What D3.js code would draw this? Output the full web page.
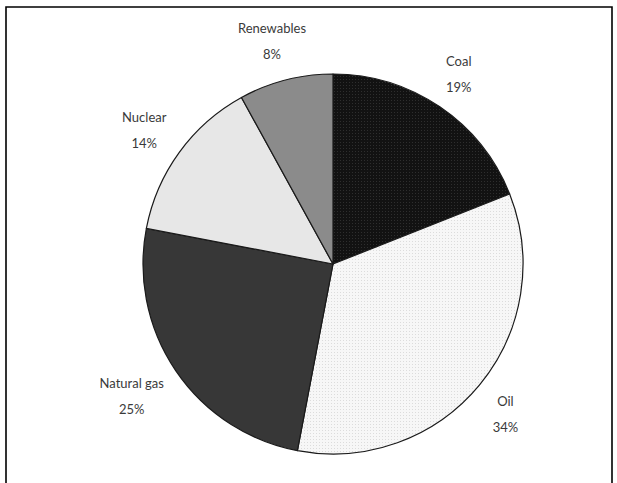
<!DOCTYPE html>
<html>
<head>
<meta charset="utf-8">
<script src="https://cdn.jsdelivr.net/npm/d3@7/dist/d3.min.js"></script>
<style>
  html, body { margin: 0; padding: 0; background: #fff; }
  svg { display: block; }
</style>
</head>
<body>
<svg id="chart" width="617" height="483"></svg>
<script>
// Energy mix shares (percent)
const sources = ["Coal", "Oil", "Natural gas", "Nuclear", "Renewables"];
const shares  = [19, 34, 25, 14, 8];
const fills   = ["url(#dotsDark)", "url(#dotsLight)", "#373737", "#e7e7e7", "#8b8b8b"];

const W = 617, H = 483;
const cx = 333, cy = 264, R = 190;

const svg = d3.select("#chart");

// Fill textures
const defs = svg.append("defs");
const dark = defs.append("pattern").attr("id", "dotsDark")
  .attr("patternUnits", "userSpaceOnUse").attr("width", 3).attr("height", 3);
dark.append("rect").attr("width", 3).attr("height", 3).attr("fill", "#121212");
dark.append("rect").attr("x", 1).attr("y", 1).attr("width", 1).attr("height", 1).attr("fill", "#2e2e2e");

const light = defs.append("pattern").attr("id", "dotsLight")
  .attr("patternUnits", "userSpaceOnUse").attr("width", 3).attr("height", 3);
light.append("rect").attr("width", 3).attr("height", 3).attr("fill", "#f7f7f7");
light.append("rect").attr("x", 1).attr("y", 1).attr("width", 1).attr("height", 1).attr("fill", "#dcdcdc");

// Frame (open at the bottom)
svg.append("path")
  .attr("d", `M6,${H} L6,7 L612,7 L612,${H}`)
  .attr("fill", "none").attr("stroke", "#000").attr("stroke-width", 1.6);

const pie = d3.pie().sort(null).value(d => d)(shares);
const arc = d3.arc().innerRadius(0).outerRadius(R);

const g = svg.append("g").attr("transform", `translate(${cx},${cy})`);

g.selectAll("path.slice")
  .data(pie)
  .join("path")
  .attr("class", "slice")
  .attr("d", arc)
  .attr("fill", (d, i) => fills[i])
  .attr("stroke", "#1a1a1a")
  .attr("stroke-width", 1.2)
  .attr("stroke-linejoin", "round");

// Outside labels: anchor point on a ring, then pushed out by half the label box
const labelR = 211;
const fontSize = 13, lineGap = 26;
const labels = g.selectAll("g.lbl")
  .data(pie)
  .join("g")
  .attr("class", "lbl");

labels.each(function(d, i) {
  const sel = d3.select(this);
  const t = sel.append("text")
    .attr("text-anchor", "middle")
    .attr("font-family", "Lato, 'Open Sans', sans-serif")
    .attr("font-size", fontSize)
    .attr("fill", "#3a3a3a");
  t.append("tspan").attr("x", 0).attr("y", -lineGap / 2 + 7).text(sources[i]);
  t.append("tspan").attr("x", 0).attr("y", lineGap / 2 + 7).text(shares[i] + "%");
  const bb = t.node().getBBox();
  const a = (d.startAngle + d.endAngle) / 2;
  const s = Math.sin(a), c = -Math.cos(a);
  const x = labelR * s + (bb.width / 2) * s;
  const y = labelR * c + (bb.height / 2) * c;
  sel.attr("transform", `translate(${x},${y})`);
});
</script>
</body>
</html>
